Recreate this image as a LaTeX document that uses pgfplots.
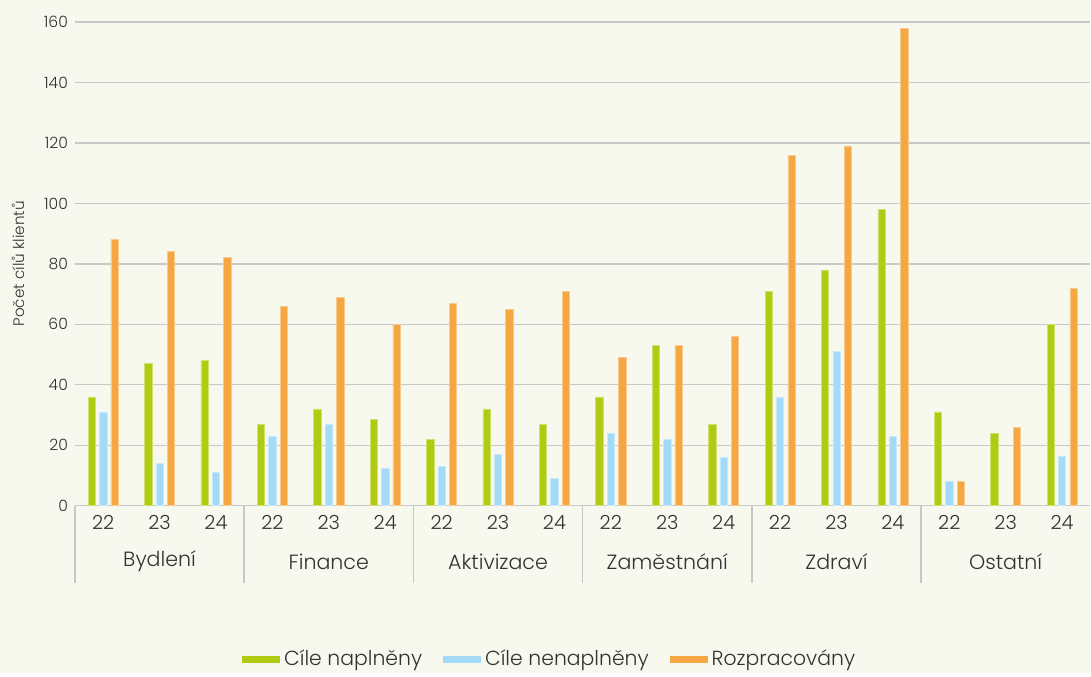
\documentclass[border=0pt]{standalone}
\usepackage{pgfplots}
\pgfplotsset{compat=1.18}
\usepackage{fontspec}
\setmainfont{Poppins}[UprightFont=* Light]
\definecolor{bg}{HTML}{F7F9EE}
\definecolor{cgreen}{HTML}{B0CB12}
\definecolor{cblue}{HTML}{A3DAF8}
\definecolor{corange}{HTML}{F5A742}
\definecolor{txt}{HTML}{333333}
\definecolor{gridc}{HTML}{C8C8C8}
\begin{document}
\begin{tikzpicture}
\fill[bg] (-37.5pt,-83.5pt) rectangle (508pt,253pt);
\begin{axis}[at={(0,0)}, anchor=south west, scale only axis, width=508pt, height=242pt,
  xmin=-0.5, xmax=17.5, ymin=0, ymax=160,
  ytick={0,20,...,160}, xtick={0,...,17},
  xticklabels={22,23,24,22,23,24,22,23,24,22,23,24,22,23,24,22,23,24},
  axis line style={draw=none}, major tick length=0pt,
  ymajorgrids, grid style={gridc, line width=0.7pt},
  ybar, bar width=3.65pt,
  /pgf/number format/assume math mode=true,
  yticklabel style={font=\fontsize{7.8}{9}\selectfont, text=txt},
  xticklabel style={font=\fontsize{9.7}{11}\selectfont, text=txt, anchor=center, yshift=-8.5pt},
  ylabel={Počet cílů klientů},
  ylabel style={at={(axis description cs:-0.0561,0.5)}, anchor=center, font=\fontsize{7.6}{8}\selectfont, text=txt},
  legend style={at={(axis description cs:0.4685,-0.318)}, anchor=center, legend columns=3, draw=none, fill=none,
    font=\fontsize{10.2}{12}\selectfont, text=txt, /tikz/every even column/.append style={column sep=8.5pt}},
  legend image code/.code={\fill[#1,draw=none] (0pt,-1.9pt) rectangle (19pt,1.9pt);},
  clip=false
]
\addplot[fill=cgreen, draw=cgreen!60!white, line width=0.3pt, bar shift=-5.7pt] coordinates {
(0,36) (1,47) (2,48) (3,27) (4,32) (5,28.5) (6,22) (7,32) (8,27)
(9,36) (10,53) (11,27) (12,71) (13,78) (14,98) (15,31) (16,24) (17,60)};
\addplot[fill=cblue, draw=cblue!60!white, line width=0.3pt, bar shift=0pt] coordinates {
(0,31) (1,14) (2,11) (3,23) (4,27) (5,12.5) (6,13) (7,17) (8,9)
(9,24) (10,22) (11,16) (12,36) (13,51) (14,23) (15,8) (17,16.5)};
\addplot[fill=corange, draw=corange!60!white, line width=0.3pt, bar shift=5.7pt] coordinates {
(0,88) (1,84) (2,82) (3,66) (4,69) (5,60) (6,67) (7,65) (8,71)
(9,49) (10,53) (11,56) (12,116) (13,119) (14,158) (15,8) (16,26) (17,72)};
\legend{Cíle naplněny, Cíle nenaplněny, Rozpracovány}
\draw[gridc, line width=0.7pt] (axis cs:-0.5,0) -- ++(0pt,-38.5pt);
\draw[gridc, line width=0.7pt] (axis cs:2.5,0) -- ++(0pt,-38.5pt);
\draw[gridc, line width=0.7pt] (axis cs:5.5,0) -- ++(0pt,-38.5pt);
\draw[gridc, line width=0.7pt] (axis cs:8.5,0) -- ++(0pt,-38.5pt);
\draw[gridc, line width=0.7pt] (axis cs:11.5,0) -- ++(0pt,-38.5pt);
\draw[gridc, line width=0.7pt] (axis cs:14.5,0) -- ++(0pt,-38.5pt);
\node[font=\fontsize{10.3}{12}\selectfont, text=txt] at ([yshift=-28pt]axis cs:1,0) {Bydlení};
\node[font=\fontsize{10.3}{12}\selectfont, text=txt] at ([yshift=-28pt]axis cs:4,0) {Finance};
\node[font=\fontsize{10.3}{12}\selectfont, text=txt] at ([yshift=-28pt]axis cs:7,0) {Aktivizace};
\node[font=\fontsize{10.3}{12}\selectfont, text=txt] at ([yshift=-28pt]axis cs:10,0) {Zaměstnání};
\node[font=\fontsize{10.3}{12}\selectfont, text=txt] at ([yshift=-28pt]axis cs:13,0) {Zdraví};
\node[font=\fontsize{10.3}{12}\selectfont, text=txt] at ([yshift=-28pt]axis cs:16,0) {Ostatní};
\end{axis}
\end{tikzpicture}
\end{document}
